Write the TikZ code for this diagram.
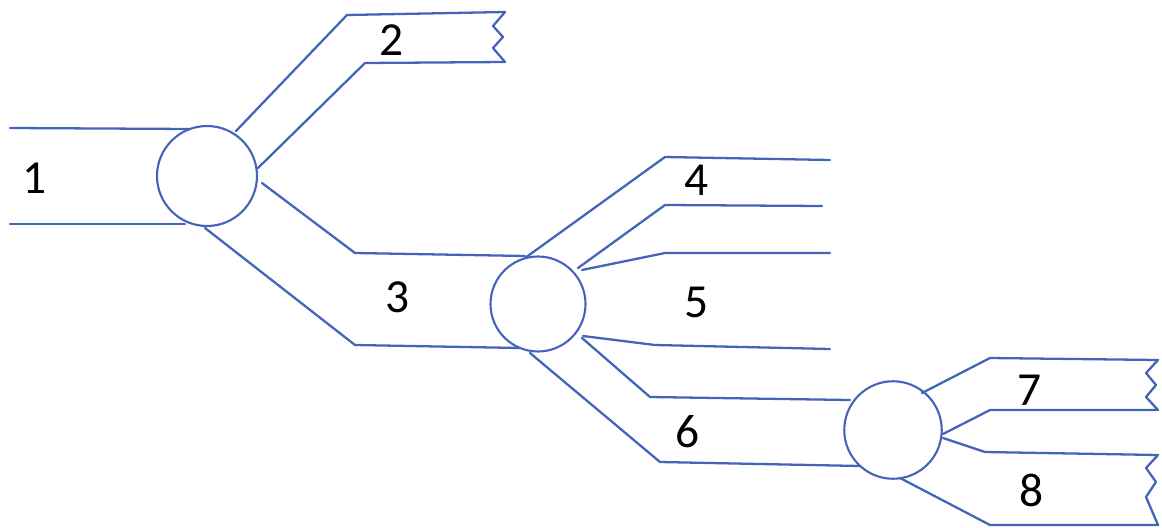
\documentclass[tikz,border=0pt]{standalone}
\usepackage{fontspec}
\setmainfont{Carlito}
\definecolor{pen}{RGB}{68,100,188}
\begin{document}
\begin{tikzpicture}[x=0.02cm,y=-0.02cm,
  pipe/.style={draw=pen,line width=1.3pt,line join=round,line cap=round},
  junction/.style={circle,draw=pen,line width=1.2pt,inner sep=0pt},
  lbl/.style={font=\fontsize{27}{30}\selectfont,text=black}]
\useasboundingbox (0,0) rectangle (1162,527);
% junctions
\node[junction,minimum size=2cm] (j1) at (207,176) {};
\node[junction,minimum size=1.9cm] (j2) at (538,304) {};
\node[junction,minimum size=1.95cm] (j3) at (893,430) {};
% pipe 1
\draw[pipe] (10,128) -- (190,129);
\draw[pipe] (10,224) -- (185,224);
% pipe 2
\draw[pipe] (236,131) -- (347,15) -- (505,12) -- (493,26) -- (503,37) -- (493,48) -- (505,62) -- (365,63) -- (258,168);
% pipe 3
\draw[pipe] (262,183) -- (355,253) -- (525,256);
\draw[pipe] (205,228) -- (355,345) -- (520,348);
% pipe 4
\draw[pipe] (525,258) -- (665,157) -- (830,160);
\draw[pipe] (578,268) -- (665,205) -- (822,206);
% pipe 5
\draw[pipe] (582,270) -- (665,253) -- (830,253);
\draw[pipe] (583,336) -- (655,345) -- (830,349);
% pipe 6
\draw[pipe] (582,338) -- (650,397) -- (850,400);
\draw[pipe] (530,353) -- (660,462) -- (860,466);
% pipe 7
\draw[pipe] (922,393) -- (990,358) -- (1158,360) -- (1146,373) -- (1156,385) -- (1146,397) -- (1158,410) -- (990,410) -- (943,434);
% pipe 8
\draw[pipe] (943,438) -- (985,452) -- (1158,455) -- (1146,468) -- (1156,482) -- (1146,497) -- (1158,525) -- (990,525) -- (900,478);
% labels
\node[lbl] (l1) at (35,178) {1};
\node[lbl] (l2) at (392,40) {2};
\node[lbl] (l3) at (398,297) {3};
\node[lbl] (l4) at (697,180) {4};
\node[lbl] (l5) at (697,302) {5};
\node[lbl] (l6) at (688,432) {6};
\node[lbl] (l7) at (1030,390) {7};
\node[lbl] (l8) at (1032,490) {8};
\end{tikzpicture}
\end{document}
